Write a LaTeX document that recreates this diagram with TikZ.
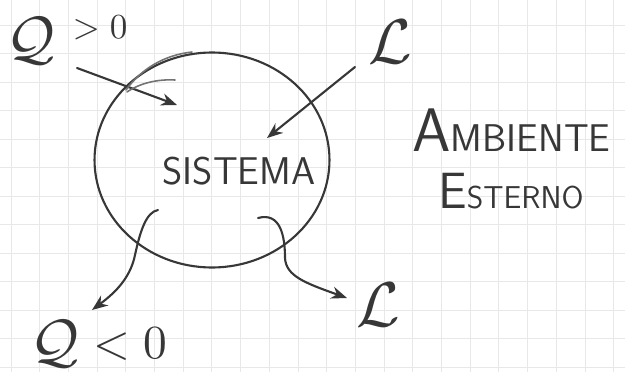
\documentclass[tikz,border=0pt]{standalone}
\usepackage{amsmath,amssymb}
\usepackage{tikz}
\usetikzlibrary{arrows.meta,shapes.geometric}
\definecolor{pencil}{RGB}{55,55,55}
\definecolor{gridgrey}{RGB}{232,232,232}
\tikzset{
  skgrid/.style  ={line width=0.5pt, gridgrey},
  skline/.style  ={line width=1.2pt, pencil, line cap=round},
  skarrow/.style ={skline, -{Stealth[length=9pt, width=7pt]}},
  skfaint/.style ={line width=0.9pt, pencil!70, line cap=round},
  sksystem/.style={ellipse, draw=pencil, line width=1.2pt,
                   minimum width=4.7cm, minimum height=4.3cm, inner sep=0pt},
  skmath/.style  ={text=pencil, inner sep=0pt},
  skword/.style  ={text=pencil, inner sep=0pt, font=\sffamily},
}

\begin{document}
\begin{tikzpicture}[x=0.02cm, y=-0.02cm]
  \useasboundingbox (0,0) rectangle (625,372);
  % squared paper
  \foreach \i in {0,...,21}
    \draw[skgrid] ({11+28.7*\i},0) -- ({11+28.7*\i},372);
  \foreach \j in {0,...,13}
    \draw[skgrid] (0,{-3.5+28.5*\j}) -- (625,{-3.5+28.5*\j});

  % system and surroundings
  \node[sksystem] (sys) at (212,160) {};
  \node[skword, font=\sffamily\fontsize{22}{26}\selectfont] (systxt) at (239,171) {SISTEMA};
  \node[skword, anchor=base west] (amb) at (412,151)
    {{\fontsize{35}{40}\selectfont A}\fontsize{22}{26}\selectfont MBIENTE};
  \node[skword, anchor=base west] (est) at (438,208)
    {{\fontsize{29}{32}\selectfont E}\fontsize{18}{22}\selectfont STERNO};

  % heat and work labels
  \node[skmath, scale=3.4] (qin)      at (31,41)   {$\mathcal{Q}$};
  \node[skmath, scale=2.0] (qinsign)  at (100,28)  {$>0$};
  \node[skmath, scale=3.6] (lin)      at (390,42)  {$\mathcal{L}$};
  \node[skmath, scale=3.4] (qout)     at (55,344)  {$\mathcal{Q}$};
  \node[skmath, scale=2.7] (qoutsign) at (130,344) {$<0$};
  \node[skmath, scale=3.6] (lout)     at (378,305) {$\mathcal{L}$};

  % arrows in
  \coordinate (qintail) at (77,68);
  \coordinate (qintip)  at (177,105);
  \draw[skarrow] (qintail) -- (qintip);
  \draw[skfaint] (127,92) .. controls (140,83) and (158,79) .. (175,80);
  \draw[skfaint] (126,90) .. controls (142,68) and (165,55) .. (192,52);
  \coordinate (lintail) at (355,67);
  \coordinate (lintip)  at (267,138);
  \draw[skarrow] (lintail) -- (lintip);

  % arrows out
  \coordinate (qouttail) at (158,210);
  \coordinate (qouttip)  at (92,310);
  \draw[skarrow] (qouttail) .. controls (146,212) and (140,232) .. (135,255)
                 .. controls (130,280) and (112,295) .. (qouttip);
  \coordinate (louttail) at (258,218);
  \coordinate (louttip)  at (347,298);
  \draw[skarrow] (louttail) .. controls (280,212) and (285,235) .. (285,258)
                 .. controls (286,276) and (305,283) .. (louttip);
\end{tikzpicture}
\end{document}
